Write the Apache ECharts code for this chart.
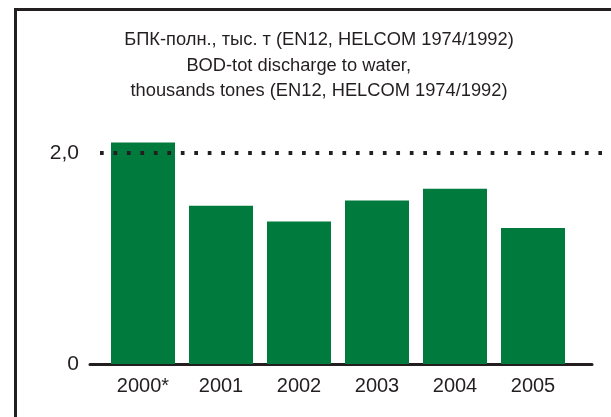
<!DOCTYPE html>
<html>
<head>
<meta charset="utf-8">
<script src="https://cdn.jsdelivr.net/npm/echarts@6/dist/echarts.min.js"></script>
<style>
  html, body { margin: 0; padding: 0; background: #fff; }
  #chart { width: 611px; height: 417px; }
</style>
</head>
<body>
<div id="chart"></div>
<script>
// data
const years = ['2000*', '2001', '2002', '2003', '2004', '2005']
const bodValues = [2.10, 1.50, 1.35, 1.55, 1.66, 1.29]
const yTicks = [0, 2]
const refLevel = 2.0
const titleLines = [
  'БПК-полн., тыс. т (EN12, HELCOM 1974/1992)',
  'BOD-tot discharge to water,\u00a0\u00a0\u00a0\u00a0\u00a0\u00a0\u00a0\u00a0',
  'thousands tones (EN12, HELCOM 1974/1992)'
]

const ink = '#231f20'
const green = '#007a3d'
const font = '"Liberation Sans", Arial, sans-serif'
const yMax = 2.2
const gTop = 131.9
const gBottom = 53

const chart = echarts.init(document.getElementById('chart'), null, { renderer: 'canvas' })

const option = {
  animation: false,
  backgroundColor: '#fff',
  title: {
    text: titleLines.join('\n'),
    left: 314,
    top: 22.5,
    textAlign: 'center',
    textStyle: {
      fontFamily: font,
      fontSize: 18.3,
      fontWeight: 'normal',
      color: ink,
      lineHeight: 25.5
    }
  },
  graphic: [{
    // frame round the figure (left and top edges only)
    type: 'polyline',
    shape: { points: [[15.5, 417], [15.5, 9.5], [611, 9.5]] },
    style: { stroke: ink, lineWidth: 3, fill: null }
  }],
  grid: [
    { left: 104, right: 39, top: gTop, bottom: gBottom }, // bars
    { left: 90, right: 19, top: gTop, bottom: gBottom },  // zero axis line
    { left: 100, right: 9, top: gTop, bottom: gBottom }   // dotted level + y labels
  ],
  xAxis: [
    {
      gridIndex: 0,
      type: 'category',
      data: years,
      boundaryGap: true,
      axisLine: { show: false },
      axisTick: { show: false },
      axisLabel: { fontFamily: font, fontSize: 20, color: ink, margin: 12 }
    },
    {
      gridIndex: 1,
      type: 'value',
      min: 0,
      max: 1,
      axisLine: { show: true, lineStyle: { color: ink, width: 3 } },
      axisTick: { show: false },
      axisLabel: { show: false },
      splitLine: { show: false }
    },
    {
      gridIndex: 2,
      type: 'value',
      min: 0,
      max: 1,
      show: false
    }
  ],
  yAxis: [
    { gridIndex: 0, type: 'value', min: 0, max: yMax, show: false },
    { gridIndex: 1, type: 'value', min: 0, max: yMax, show: false },
    {
      gridIndex: 2,
      type: 'value',
      min: 0,
      max: yMax,
      interval: 2,
      axisLine: { show: false },
      axisTick: { show: false },
      splitLine: { show: false },
      axisLabel: {
        fontFamily: font,
        fontSize: 21,
        color: ink,
        margin: 21,
        showMaxLabel: false,
        formatter: v => yTicks.includes(v) ? (v === 0 ? '0' : v.toFixed(1).replace('.', ',')) : ''
      }
    }
  ],
  series: [
    {
      type: 'bar',
      xAxisIndex: 0,
      yAxisIndex: 0,
      data: bodValues,
      barWidth: 64,
      itemStyle: { color: green },
      silent: true
    },
    {
      type: 'line',
      xAxisIndex: 2,
      yAxisIndex: 2,
      data: [],
      silent: true,
      markLine: {
        silent: true,
        symbol: 'none',
        label: { show: false },
        lineStyle: { color: ink, width: 4, type: [3.7, 9.77], cap: 'butt' },
        data: [{ yAxis: refLevel }]
      }
    }
  ]
}

chart.setOption(option)
</script>
</body>
</html>
